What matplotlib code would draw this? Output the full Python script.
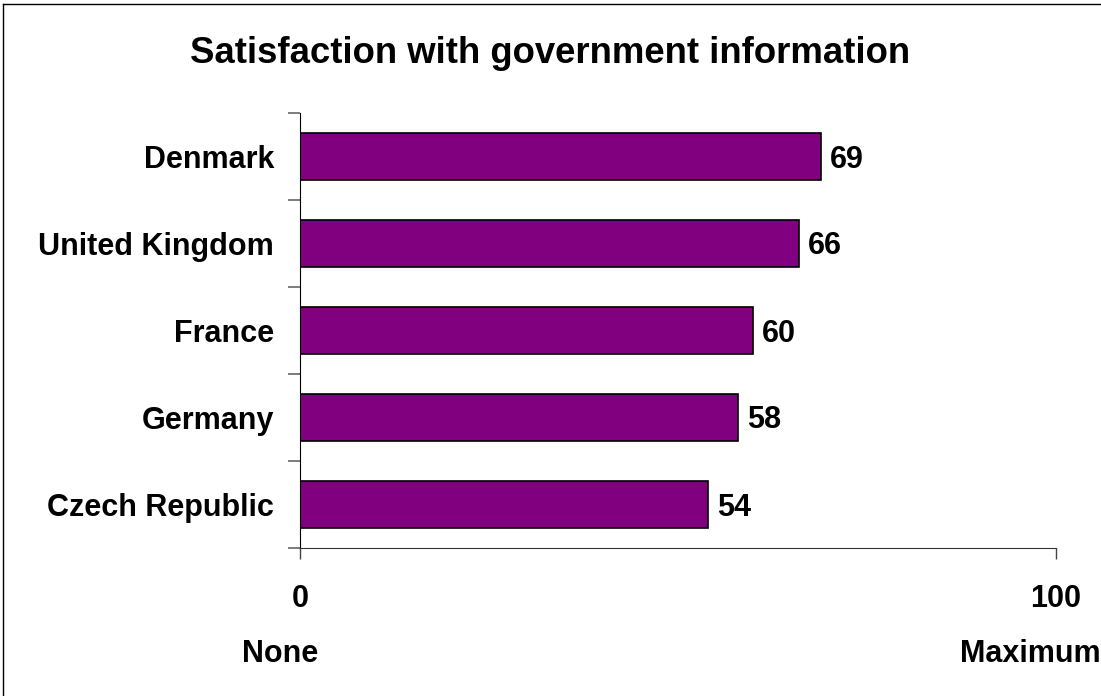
import numpy as np
import matplotlib.pyplot as plt
from matplotlib.lines import Line2D
import matplotlib.transforms as mtransforms

plt.rcParams['font.family'] = ['Liberation Sans', 'DejaVu Sans']

# data (top to bottom as shown)
countries = ["Denmark", "United Kingdom", "France", "Germany", "Czech Republic"]
scores = [69, 66, 60, 58, 54]
x_ticks = [0, 100]
x_tick_labels = ["0", "100"]
end_labels = ["None", "Maximum"]

W, H = 1101, 696
fig = plt.figure(figsize=(W / 100, H / 100), dpi=100)
ax = fig.add_axes([300 / W, 1 - 548 / H, 755.5 / W, 435 / H])

# positions: first country at top
pos = np.arange(len(countries))[::-1]
ax.barh(pos, scores, height=0.53, color="#800080", edgecolor="black", linewidth=1.2)

# value labels next to bars (baseline shifted so digits sit centred on the bar)
down = mtransforms.ScaledTranslation(0, -11 / 100, fig.dpi_scale_trans)
for p, v in zip(pos, scores):
    ax.text(v + 1.2, p, str(v), ha="left", va="baseline",
            fontsize=22, fontweight="bold", transform=ax.transData + down)

ax.set_xlim(0, 100)
ax.set_ylim(-0.5, len(countries) - 0.5)

# spines
for s in ["top", "right"]:
    ax.spines[s].set_visible(False)
ax.spines["left"].set_color("black")
ax.spines["bottom"].set_color("#333333")

# x ticks: only 0 and 100
ax.set_xticks(x_ticks)
ax.set_xticklabels(x_tick_labels, fontsize=22, fontweight="bold")
ax.tick_params(axis="x", direction="out", length=8, width=1, color="#444444", pad=18)

# y ticks: marks at category boundaries, labels at centres
ax.set_yticks(np.arange(-0.5, len(countries), 1.0))
ax.set_yticklabels([])
ax.tick_params(axis="y", which="major", direction="out", length=9, width=1.2, color="#666666")
ax.set_yticks(pos, minor=True)
ax.set_yticklabels(countries, minor=True, fontsize=22, fontweight="bold")
ax.tick_params(axis="y", which="minor", length=0, pad=18.7)

# None / Maximum under the ends of the axis
trans = mtransforms.blended_transform_factory(ax.transData, ax.transAxes)
ax.text(-2.6, -0.262, end_labels[0], transform=trans, ha="center", va="baseline",
        fontsize=22, fontweight="bold")
ax.text(96.6, -0.262, end_labels[1], transform=trans, ha="center", va="baseline",
        fontsize=22, fontweight="bold")

# title
fig.text(0.5, 1 - 63 / H, "Satisfaction with government information",
         ha="center", va="baseline", fontsize=26.3, fontweight="bold")

# frame lines on the left and top edges of the picture
fig.add_artist(Line2D([3 / W, 3 / W], [0, 1 - 4 / H], transform=fig.transFigure,
                      color="black", linewidth=1))
fig.add_artist(Line2D([3 / W, 1], [1 - 4 / H, 1 - 4 / H], transform=fig.transFigure,
                      color="black", linewidth=1))

fig.savefig("out.png", dpi=100)
